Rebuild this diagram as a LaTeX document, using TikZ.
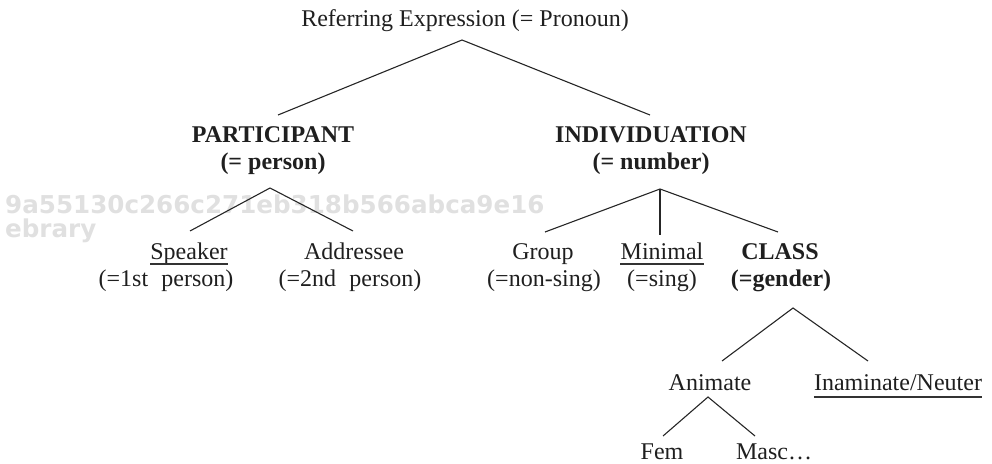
\documentclass[tikz,border=0pt]{standalone}
\usepackage{fontspec}
\setmainfont{Liberation Serif}
\newfontfamily\wmfamily{DejaVu Sans}
\begin{document}
\begin{tikzpicture}[x=1pt,y=-1pt,
  lbl/.style={anchor=base,inner sep=0pt,text=black!88,font=\fontsize{24}{28}\selectfont},
  blbl/.style={lbl,font=\fontsize{24}{28}\selectfont\bfseries},
  wm/.style={anchor=base west,inner sep=0pt,text=black!12,font=\fontsize{24.6}{28}\selectfont\wmfamily\bfseries},
  branch/.style={draw=black!85,line width=1.1pt},
  uline/.style={draw=black!80,line width=1.2pt}]
\useasboundingbox (0,0) rectangle (992,463);
% watermark
\node[wm] (wm1) at (5,213) {9a55130c266c271eb318b566abca9e16};
\node[wm] (wm2) at (5,237) {ebrary};
% nodes
\node[lbl] (root) at (465,27) {Referring Expression (= Pronoun)};
\node[blbl] (part1) at (273,142) {PARTICIPANT};
\node[blbl] (part2) at (273,169) {(= person)};
\node[blbl] (ind1) at (651,142) {INDIVIDUATION};
\node[blbl] (ind2) at (651,169) {(= number)};
\node[lbl] (spk1) at (189,259) {Speaker};
\node[lbl] (spk2) at (166,286) {(=1st\hspace{0.3em} person)};
\node[lbl] (adr1) at (354,259) {Addressee};
\node[lbl] (adr2) at (350,286) {(=2nd\hspace{0.3em} person)};
\node[lbl] (grp1) at (543,259) {Group};
\node[lbl] (grp2) at (544,286) {(=non-sing)};
\node[lbl] (min1) at (662,259) {Minimal};
\node[lbl] (min2) at (662,286) {(=sing)};
\node[blbl] (cls1) at (780,259) {CLASS};
\node[blbl] (cls2) at (781,286) {(=gender)};
\node[lbl] (ani) at (710,390) {Animate};
\node[lbl] (ina) at (898,390) {Inaminate/Neuter};
\node[lbl] (fem) at (662,459) {Fem};
\node[lbl] (masc) at (774,459) {Masc…};
% underlines
\draw[uline] ([yshift=-5pt]spk1.base west) -- ([yshift=-5pt]spk1.base east);
\draw[uline] ([yshift=-5pt]min1.base west) -- ([yshift=-5pt]min1.base east);
\draw[uline] ([yshift=-7pt]ina.base west) -- ([yshift=-7pt]ina.base east);
% branch points
\coordinate (rootA) at (462,40);
\coordinate (partT) at (278,115);
\coordinate (indT) at (650,115);
\coordinate (partA) at (270,188);
\coordinate (spkT) at (190,231);
\coordinate (adrT) at (353,231);
\coordinate (indA) at (660,189);
\coordinate (grpT) at (545,232);
\coordinate (minT) at (660,235);
\coordinate (clsT) at (778,232);
\coordinate (clsA) at (793,308);
\coordinate (aniT) at (722,361);
\coordinate (inaT) at (868,361);
\coordinate (aniA) at (708,397);
\coordinate (femT) at (663,436);
\coordinate (mascT) at (755,436);
% branches
\draw[branch] (partT) -- (rootA) -- (indT);
\draw[branch] (spkT) -- (partA) -- (adrT);
\draw[branch] (grpT) -- (indA) -- (clsT);
\draw[branch] (indA) -- (minT);
\draw[branch] (aniT) -- (clsA) -- (inaT);
\draw[branch] (femT) -- (aniA) -- (mascT);
\end{tikzpicture}
\end{document}
